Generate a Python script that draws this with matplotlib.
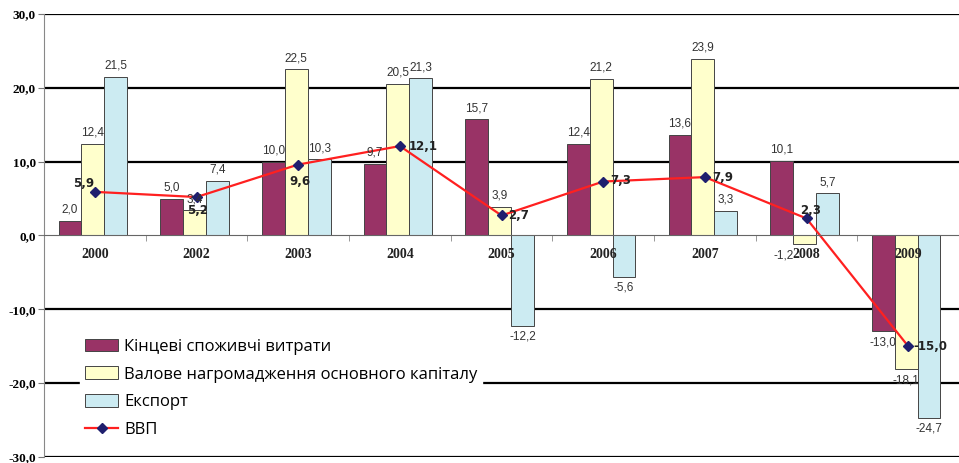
import numpy as np
import matplotlib.pyplot as plt
from matplotlib.ticker import FixedLocator

years = ['2000', '2002', '2003', '2004', '2005', '2006', '2007', '2008', '2009']
consumption = [2.0, 5.0, 10.0, 9.7, 15.7, 12.4, 13.6, 10.1, -13.0]
capital = [12.4, 3.4, 22.5, 20.5, 3.9, 21.2, 23.9, -1.2, -18.1]
export = [21.5, 7.4, 10.3, 21.3, -12.2, -5.6, 3.3, 5.7, -24.7]
gdp = [5.9, 5.2, 9.6, 12.1, 2.7, 7.3, 7.9, 2.3, -15.0]

series_names = ['Кінцеві споживчі витрати', 'Валове нагромадження основного капіталу', 'Експорт']
series_colors = ['#993366', '#FFFFCC', '#CCEBF2']
# label offsets for GDP points, in points
gdp_offsets = [(-8, 6, 'center'), (1, -10, 'center'), (1, -12, 'center'), (6, 0, 'left'),
               (5, 0, 'left'), (5, 1, 'left'), (5, 0, 'left'), (3, 6, 'center'), (4, 0, 'left')]


def fmt(v):
    return ('%.1f' % v).replace('.', ',')


fig = plt.figure(figsize=(9.59, 4.63), dpi=100)
ax = fig.add_axes([0.046, 0.013, 0.954, 0.957])

x = np.arange(len(years))
w = 0.225
bars = []
for k, (vals, name, col) in enumerate(zip([consumption, capital, export], series_names, series_colors)):
    xs = x + (k - 1) * w - 0.02
    b = ax.bar(xs, vals, w, color=col, edgecolor='#444444', linewidth=0.7, label=name, zorder=3)
    bars.append(b)
    for xi, v in zip(xs, vals):
        dx = -15 if (k == 1 and v == -1.2) else 0
        ax.annotate(fmt(v), (xi, v), xytext=(dx, 8 if v >= 0 else -8), textcoords='offset points',
                    ha='center', va='center', fontsize=8.5, color='#333333', family='Liberation Sans', zorder=5)

line, = ax.plot(x, gdp, color='#FF2020', linewidth=1.6, marker='D', markersize=5,
                markerfacecolor='#1F1F6E', markeredgecolor='#1F1F6E', label='ВВП', zorder=4)
for xi, v, (dx, dy, ha) in zip(x, gdp, gdp_offsets):
    ax.annotate(fmt(v), (xi, v), xytext=(dx, dy), textcoords='offset points', ha=ha, va='center',
                fontsize=8.5, fontweight='bold', color='#222222', family='DejaVu Sans', zorder=6)

ax.set_ylim(-30, 30)
ax.set_xlim(-0.5, len(years) - 0.5)
ax.set_yticks(np.arange(-30, 31, 10))
ax.set_yticklabels([fmt(v) for v in np.arange(-30, 31, 10)], family='Liberation Serif',
                   fontweight='bold', fontsize=9.5)
ax.tick_params(axis='y', length=4, color='#777777', pad=2)
for v in [-30, -20, -10, 10, 20, 30]:
    ax.axhline(v, color='black', linewidth=1.6, zorder=1)

ax.spines['top'].set_visible(False)
ax.spines['right'].set_visible(False)
ax.spines['left'].set_color('#888888')
ax.spines['bottom'].set_position(('data', 0))
ax.spines['bottom'].set_color('#666666')
ax.spines['bottom'].set_zorder(4)
ax.set_xticks(x)
ax.set_xticklabels([])
ax.tick_params(axis='x', length=0)
ax.xaxis.set_minor_locator(FixedLocator(x[1:] - 0.5))
ax.tick_params(axis='x', which='minor', length=4, color='#888888')
# year labels drawn above the bars
for xi, yr in zip(x, years):
    ax.annotate(yr, (xi, 0), xytext=(0, -14), textcoords='offset points', ha='center', va='center',
                family='Liberation Serif', fontweight='bold', fontsize=10, color='#222222', zorder=8)

leg = ax.legend(bars + [line], series_names + ['ВВП'], loc='lower left', bbox_to_anchor=(0.03, 0.012),
                frameon=True, facecolor='white', edgecolor='white', framealpha=1,
                handlelength=2.0, handleheight=0.8, labelspacing=0.7, handletextpad=0.35, borderpad=0.3,
                prop={'family': 'Open Sans', 'size': 12})
leg.set_zorder(7)

fig.savefig('out.png', dpi=100)
